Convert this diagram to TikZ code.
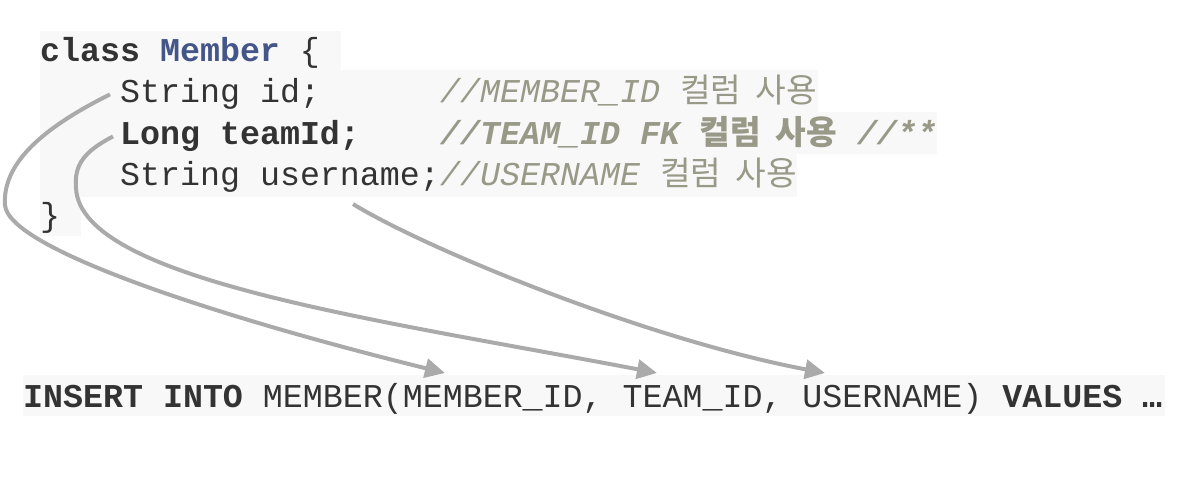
\documentclass[tikz,border=0pt]{standalone}
\usepackage{fontspec}
\setmonofont{Liberation Mono}
\newfontfamily\hangulfont{Noto Sans CJK KR}
\newcommand{\hangul}[1]{{\hangulfont #1}}
\newcommand{\colused}{\hangul{컬럼}\kern14.5pt\hangul{사용}}
\usetikzlibrary{arrows.meta,positioning,calc}
\definecolor{codetext}{HTML}{333333}
\definecolor{codeblue}{HTML}{445588}
\definecolor{codecomment}{HTML}{999988}
\definecolor{codebg}{HTML}{F8F8F8}
\definecolor{linkgray}{HTML}{AAAAAA}
\tikzset{
    code/.style    = {anchor=base west, inner sep=0pt, text=codetext,
            font=\ttfamily\fontsize{33.3}{41}\selectfont},
    comment/.style = {code, text=codecomment,
            font=\ttfamily\itshape\fontsize{33.3}{41}\selectfont},
    bgline/.style  = {fill=codebg, draw=none},
    link/.style    = {-{Triangle[length=20pt,width=19pt]}, line width=4pt,
            draw=linkgray},
}
\frenchspacing

\begin{document}
\begin{tikzpicture}[x=1pt, y=-1pt]
    \useasboundingbox (0,0) rectangle (1187,497);
    % Highlight
    \fill[bgline] (40,31) rectangle (341,70);
    \fill[bgline] (40,70) rectangle (818,112);
    \fill[bgline] (40,112) rectangle (937,154);
    \fill[bgline] (40,154) rectangle (797,197);
    \fill[bgline] (40,197) rectangle (81,236);
    \fill[bgline] (23,375) rectangle (1165,416);
    % Nodes
    \node[code] (cls) at (40,62) {\textbf{class} \textcolor{codeblue}{\textbf{Member}} \{};
    \node[code] (fid) at (120,103) {String id;};
    \node[comment] (cid) at (440,103) {//MEMBER\_ID \colused};
    \node[code] (fteam) at (120,145) {\textbf{Long teamId;}};
    \node[comment] (cteam) at (440,145) {\bfseries //TEAM\_ID FK \colused{} //**};
    \node[code] (fname) at (120,186) {String username;};
    \node[comment] (cname) at (440,186) {//USERNAME \colused};
    \node[code] (close) at (40,227) {\}};
    \node[code] (sql) at (23,407) {\textbf{INSERT INTO} MEMBER(MEMBER\_ID, TEAM\_ID, USERNAME) \textbf{VALUES} \textbf{…}};
    \coordinate (bendid) at (5,205);
    \coordinate (bendteam) at (76,188);
    \coordinate (tipid) at (445,373);
    \coordinate (tipteam) at (657,373);
    \coordinate (tipname) at (825,373);
    % Arrows
    \draw[link] ([xshift=-10pt]fid.west) .. controls +(-60,30) and +(-3,-45) .. (bendid)
        .. controls +(3,45) and +(-215,-53) .. (tipid);
    \draw[link] ([xshift=-7pt]fteam.west) .. controls +(-29,15) and +(-2,-23) .. (bendteam)
        .. controls +(4,92) and +(-277,-53) .. (tipteam);
    \draw[link] ($(fname.south)+(73,11)$) .. controls +(77,47) and +(-175,-33) .. (tipname);
\end{tikzpicture}
\end{document}
